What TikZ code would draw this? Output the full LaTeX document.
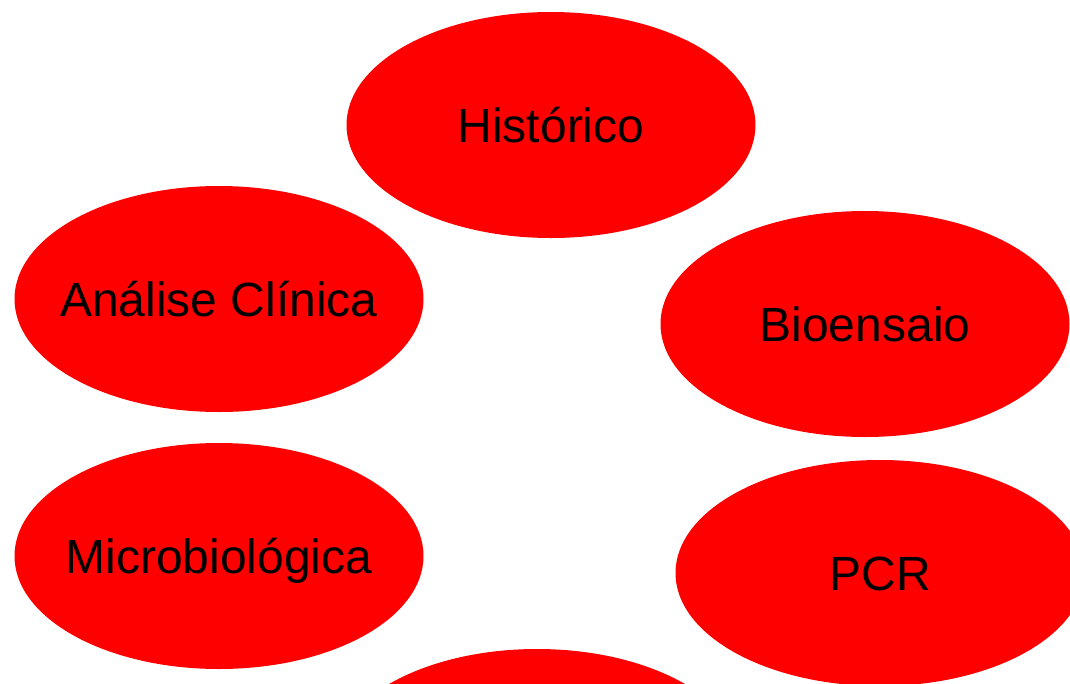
\documentclass[tikz,border=0pt]{standalone}
\usepackage{fontspec}
\setmainfont{Liberation Sans}
\usetikzlibrary{shapes.geometric}

\newcommand{\topictext}[1]{\makebox[0pt]{#1}}

\begin{document}
\begin{tikzpicture}[
		x=1pt, y=-1pt,
		topic/.style={ellipse, fill=red, minimum width=409pt, minimum height=226pt, inner sep=0pt,
			text height=34pt, text depth=0pt, font=\fontsize{48}{58}\selectfont},
	]
		\useasboundingbox (0,0) rectangle (1070,683);
		\clip (0,0) rectangle (1070,683);
		\node (hist) [topic] at (551,125) {\topictext{Histórico}};
		\node (clin) [topic] at (219,299) {\topictext{Análise Clínica}};
		\node (bio) [topic] at (865,324) {\topictext{Bioensaio}};
		\node (micro) [topic] at (219,556) {\topictext{Microbiológica}};
		\node (pcr) [topic] at (880,573) {\topictext{PCR}};
		\node (bottom) [topic] at (537,762) {};
	\end{tikzpicture}
\end{document}
